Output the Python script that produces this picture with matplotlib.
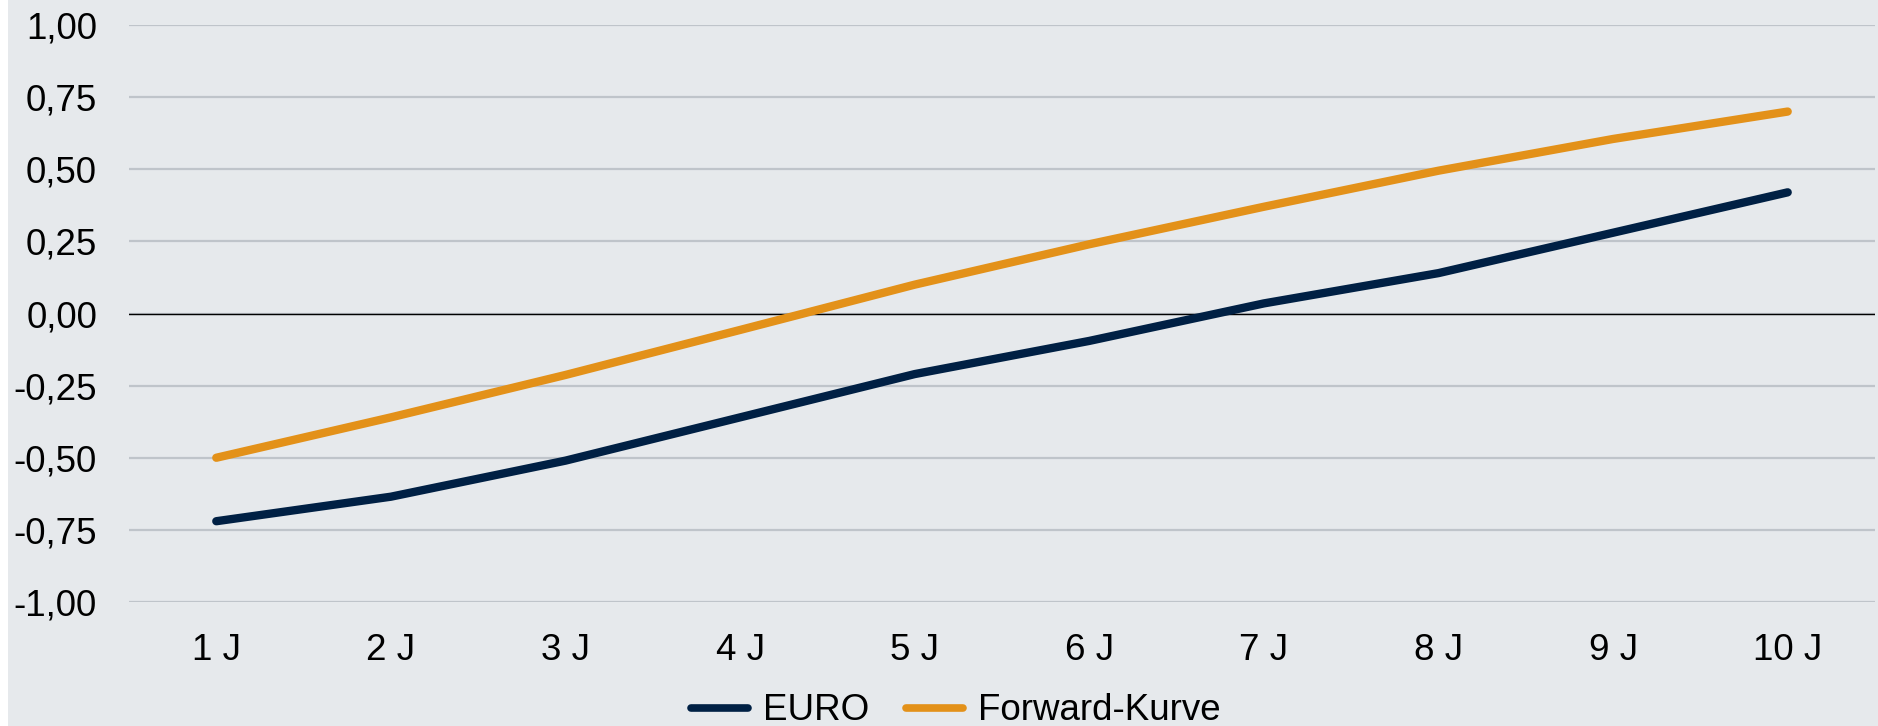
import matplotlib.pyplot as plt
import matplotlib.patches as mpatches

plt.rcParams['font.family'] = ['Liberation Sans', 'DejaVu Sans']

labels = ["1 J", "2 J", "3 J", "4 J", "5 J", "6 J", "7 J", "8 J", "9 J", "10 J"]
euro = [-0.72, -0.635, -0.51, -0.36, -0.21, -0.095, 0.035, 0.14, 0.28, 0.42]
forward = [-0.50, -0.36, -0.213, -0.057, 0.10, 0.24, 0.37, 0.495, 0.605, 0.70]
y_ticks = [-1.0, -0.75, -0.5, -0.25, 0.0, 0.25, 0.5, 0.75, 1.0]

bg = "#E6E9EC"
navy = "#002044"
orange = "#E39119"

fig = plt.figure(figsize=(18.78, 7.26), dpi=100, facecolor="white")
# grey panel, small white strip on the left
fig.patches.append(mpatches.Rectangle((8 / 1878, 0), 1, 1, transform=fig.transFigure,
                                      facecolor=bg, edgecolor="none", zorder=-10))

ax = fig.add_axes([129 / 1878, 1 - 602 / 726, (1875 - 129) / 1878, (602 - 25) / 726])
ax.set_facecolor(bg)

x = list(range(1, len(labels) + 1))
ax.plot(x, euro, color=navy, lw=6, solid_capstyle="round", label="EURO", zorder=3)
ax.plot(x, forward, color=orange, lw=6, solid_capstyle="round", label="Forward-Kurve", zorder=3)

ax.set_xlim(0.5, 10.5)
ax.set_ylim(-1.0, 1.0)
ax.set_xticks(x)
ax.set_xticklabels(labels)
ax.set_yticks(y_ticks)
ax.set_yticklabels([f"{v:.2f}".replace(".", ",") for v in y_ticks])

ax.grid(axis="y", color="#BFC4CA", lw=1.6)
ax.set_axisbelow(True)
ax.axhline(0, color="black", lw=1.0, zorder=2)
for s in ax.spines.values():
    s.set_visible(False)
ax.tick_params(axis="both", length=0, labelsize=26.5, colors="black")
ax.tick_params(axis="x", pad=22)
ax.tick_params(axis="y", pad=23)

leg = fig.legend(loc="center", bbox_to_anchor=(956 / 1878, 1 - 711 / 726), ncol=2,
                 frameon=False, fontsize=26.5, handlelength=1.55, handletextpad=0.4,
                 columnspacing=1.0)
for h in leg.get_lines():
    h.set_linewidth(5.5)
    h.set_solid_capstyle("round")

fig.savefig("out.png", dpi=100, facecolor=fig.get_facecolor())
